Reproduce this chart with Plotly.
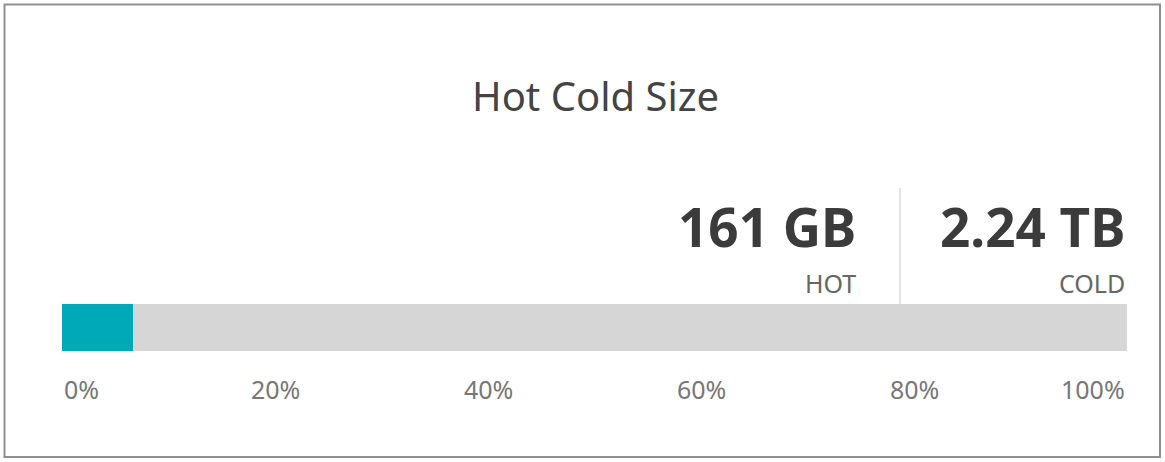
import plotly.graph_objects as go

# ---- data ----
title_text = "Hot Cold Size"
segment_names = ["HOT", "COLD"]
segment_sizes_gb = [161, 2240]
segment_labels = ["161 GB", "2.24 TB"]
segment_colors = ["#00a9b7", "#d6d6d6"]
tick_values = [0, 20, 40, 60, 80, 100]
tick_labels = ["0%", "20%", "40%", "60%", "80%", "100%"]

W, H = 1165, 462
FONT = "Noto Sans"

total = sum(segment_sizes_gb)
pct = [v / total * 100 for v in segment_sizes_gb]

fig = go.Figure()
for name, p, col in zip(segment_names, pct, segment_colors):
    fig.add_trace(go.Bar(
        x=[p], y=["size"], orientation="h", name=name,
        marker=dict(color=col, line=dict(width=0)),
        hoverinfo="skip", showlegend=False,
    ))

def py(pix):  # pixel from top -> paper y
    return (H - pix) / H

def px(pix):
    return pix / W

bar_left, bar_right = 62, 1127
bar_top, bar_bottom = 304, 351

fig.update_layout(
    width=W, height=H,
    margin=dict(l=0, r=0, t=0, b=0),
    paper_bgcolor="white", plot_bgcolor="white",
    barmode="stack", bargap=0,
    xaxis=dict(domain=[px(bar_left), px(bar_right)], range=[0, 100],
               showgrid=False, zeroline=False, showticklabels=False,
               fixedrange=True),
    yaxis=dict(domain=[py(bar_bottom), py(bar_top)], range=[-0.5, 0.5],
               showgrid=False, zeroline=False, showticklabels=False,
               fixedrange=True),
    font=dict(family=FONT),
)

annotations = []
# title
annotations.append(dict(text=title_text, x=px(595), y=py(96), xref="paper", yref="paper",
                        xanchor="center", yanchor="middle", showarrow=False,
                        font=dict(size=40, color="#444444", family=FONT)))
# tick labels
for v, lab in zip(tick_values, tick_labels):
    anchor = "left" if v == tick_values[0] else ("right" if v == tick_values[-1] else "center")
    annotations.append(dict(text=lab, x=v, y=py(389), xref="x", yref="paper",
                            xanchor=anchor, yanchor="middle", showarrow=False,
                            font=dict(size=25, color="#777777", family=FONT)))
# big values + names
value_right = [858, 1127]
for xr, lab, name in zip(value_right, segment_labels, segment_names):
    annotations.append(dict(text="<b>" + lab + "</b>", x=px(xr), y=py(227), xref="paper", yref="paper",
                            xanchor="right", yanchor="middle", showarrow=False,
                            font=dict(size=53, color="#3b3b3b", family=FONT)))
    annotations.append(dict(text=name, x=px(xr), y=py(283), xref="paper", yref="paper",
                            xanchor="right", yanchor="middle", showarrow=False,
                            font=dict(size=25, color="#666666", family=FONT)))
fig.update_layout(annotations=annotations)

shapes = [
    # divider between values
    dict(type="line", xref="paper", yref="paper", x0=px(900), x1=px(900),
         y0=py(188), y1=py(304), line=dict(color="#dddddd", width=1.5)),
    # outer frame
    dict(type="rect", xref="paper", yref="paper", x0=px(4.5), x1=px(1160),
         y0=py(457), y1=py(4.5), line=dict(color="#8f8f8f", width=2)),
]
fig.update_layout(shapes=shapes)

fig.write_html("out.html", config=dict(displayModeBar=False),
               post_script="document.body.style.margin='0';")
